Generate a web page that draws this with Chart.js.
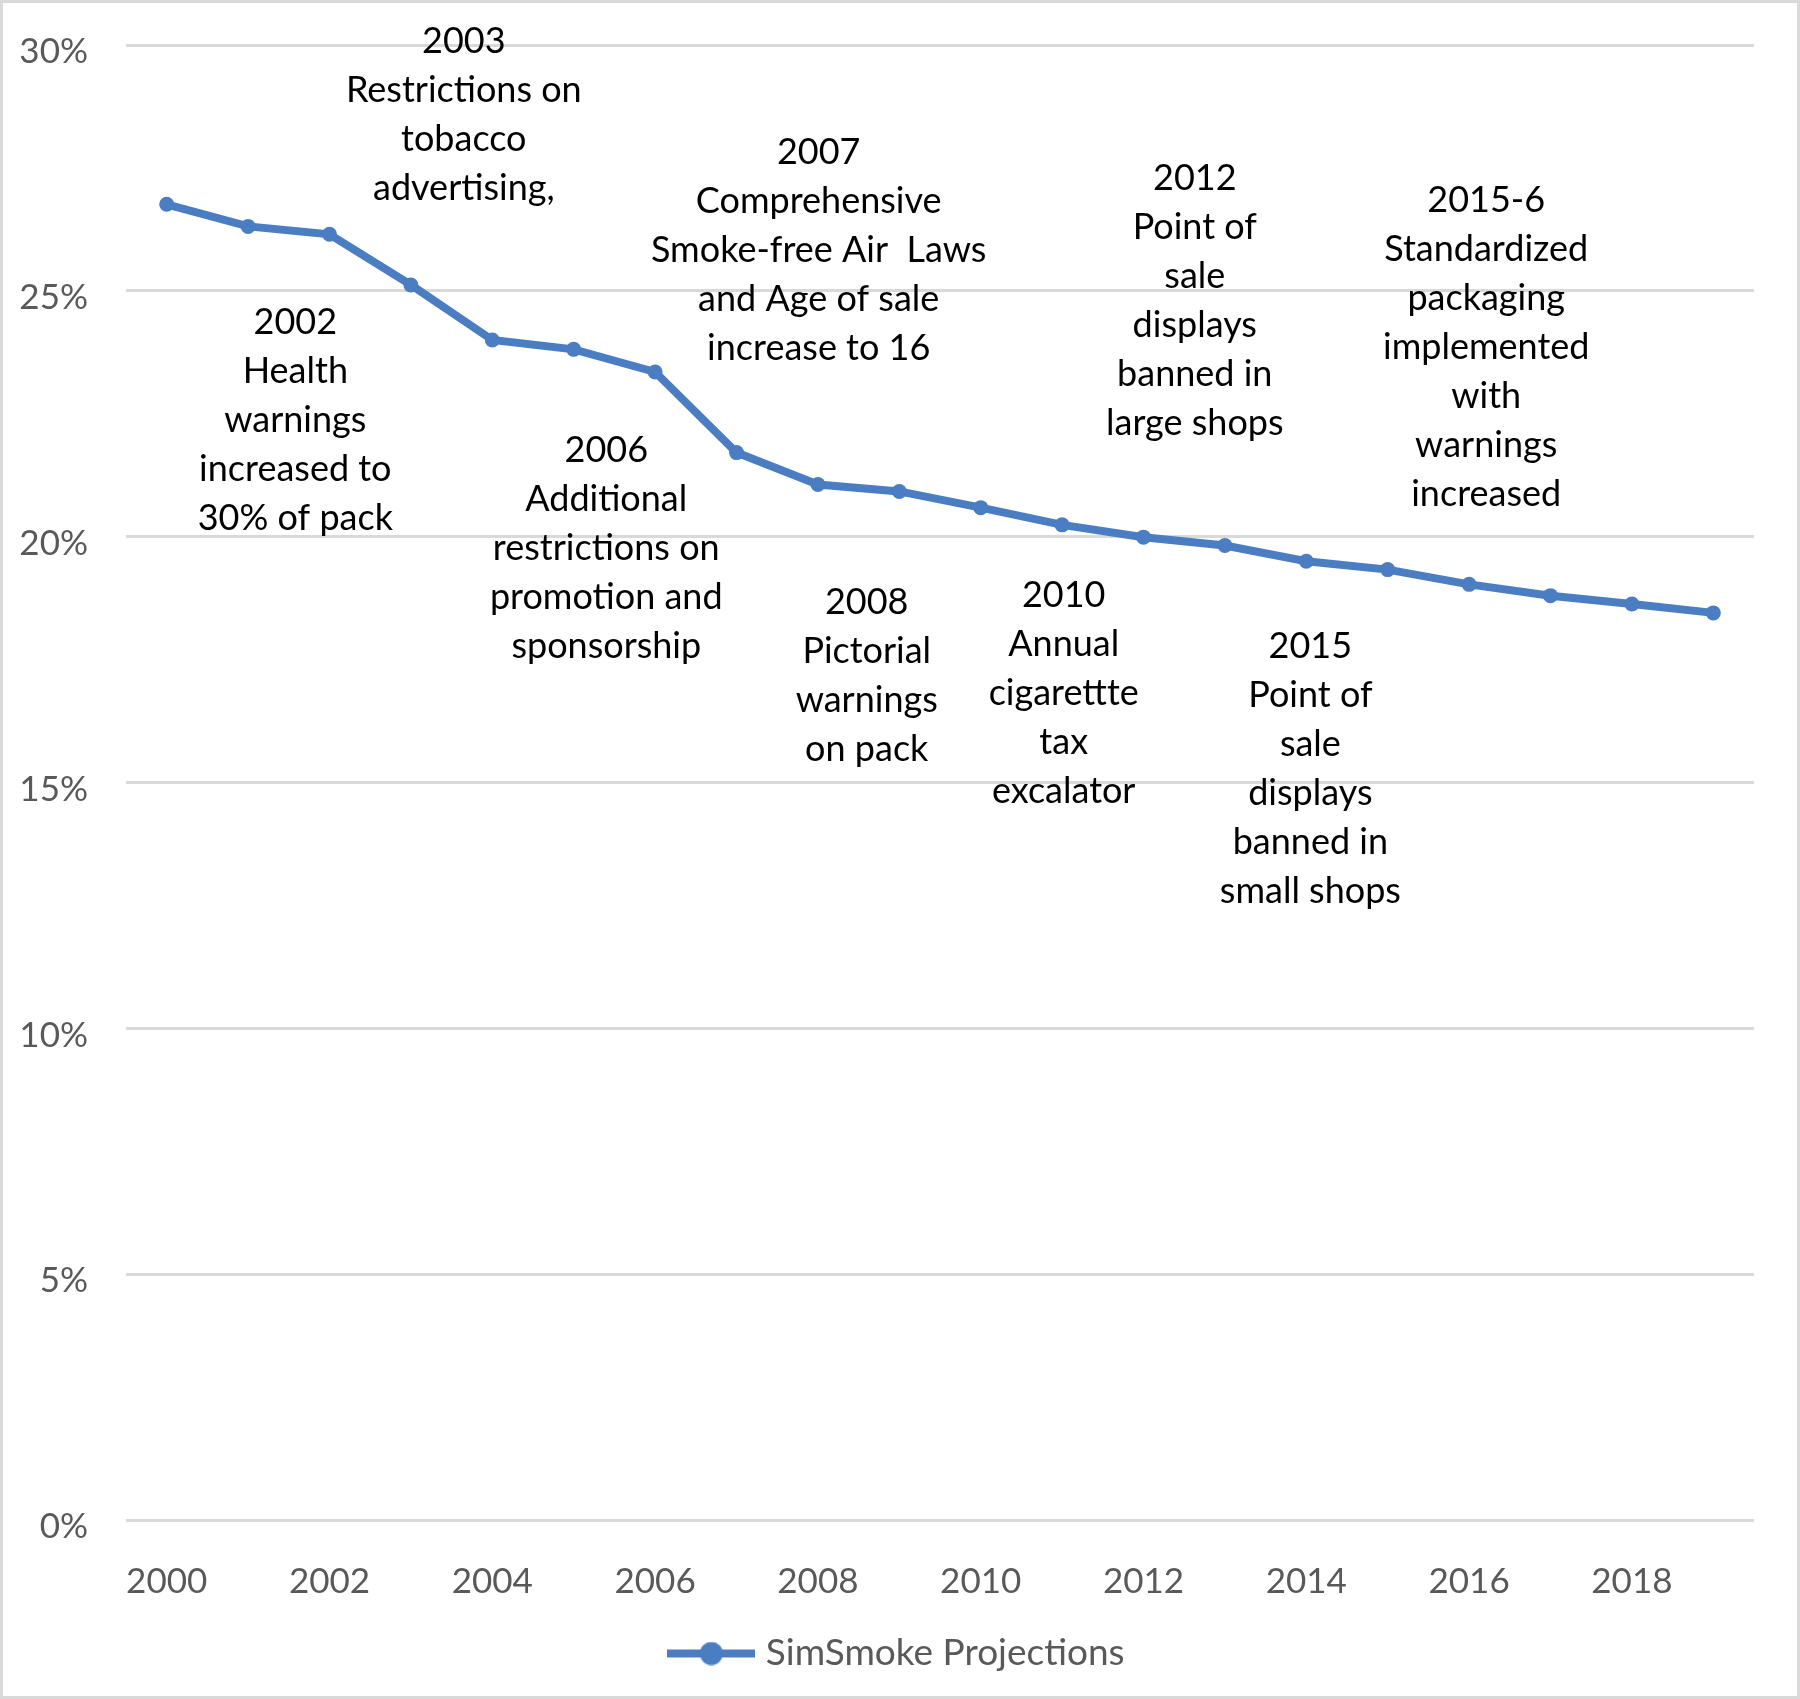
<!DOCTYPE html>
<html>
<head>
<meta charset="utf-8">
<script src="https://cdn.jsdelivr.net/npm/chart.js@4.4.0/dist/chart.umd.min.js"></script>
<style>
  html, body { margin: 0; padding: 0; background: #fff; }
</style>
</head>
<body>
<canvas id="chart" width="1800" height="1699"></canvas>
<script>
// ===== Data =====
const years = ['2000', '2001', '2002', '2003', '2004', '2005', '2006', '2007', '2008', '2009',
  '2010', '2011', '2012', '2013', '2014', '2015', '2016', '2017', '2018', '2019']
const prevalence = [26.76, 26.31, 26.15, 25.12, 24.0, 23.81, 23.35, 21.71, 21.06, 20.92,
  20.59, 20.24, 19.99, 19.82, 19.5, 19.33, 19.03, 18.8, 18.63, 18.45]
const seriesName = 'SimSmoke Projections'
const yTickValues = [0, 5, 10, 15, 20, 25, 30]

// policy notes: x = position in year-index units, y = value at first text line
const noteX = [1.58, 3.65, 5.40, 8.01, 8.60, 11.02, 12.63, 14.05, 16.21]
const noteY = [24.35, 30.07, 21.76, 27.81, 18.66, 18.80, 27.29, 17.77, 26.83]
const noteText = [
  ['2002', 'Health', 'warnings', 'increased to', '30% of pack'],
  ['2003', 'Restrictions on', 'tobacco', 'advertising,'],
  ['2006', 'Additional', 'restrictions on', 'promotion and', 'sponsorship'],
  ['2007', 'Comprehensive', 'Smoke-free Air  Laws', 'and Age of sale', 'increase to 16'],
  ['2008', 'Pictorial', 'warnings', 'on pack'],
  ['2010', 'Annual', 'cigarettte', 'tax', 'excalator'],
  ['2012', 'Point of', 'sale', 'displays', 'banned in', 'large shops'],
  ['2015', 'Point of', 'sale', 'displays', 'banned in', 'small shops'],
  ['2015-6', 'Standardized', 'packaging', 'implemented', 'with', 'warnings', 'increased']
]

const lineColor = '#4A7DC2'
const fontFamily = 'Lato, "Open Sans", sans-serif'

// legend marker: line with a dot in the middle
function makeLegendMarker() {
  const c = document.createElement('canvas')
  c.width = 88
  c.height = 24
  const g = c.getContext('2d')
  g.strokeStyle = lineColor
  g.lineWidth = 8
  g.beginPath()
  g.moveTo(0, 12)
  g.lineTo(88, 12)
  g.stroke()
  g.fillStyle = lineColor
  g.beginPath()
  g.arc(44, 12, 11.5, 0, Math.PI * 2)
  g.fill()
  return c
}

const notesPlugin = {
  id: 'notes',
  afterDraw(chart) {
    const { ctx, scales } = chart
    ctx.save()
    ctx.font = '36px ' + fontFamily
    ctx.fillStyle = '#000'
    ctx.textAlign = 'center'
    ctx.textBaseline = 'middle'
    noteText.forEach((lines, i) => {
      const x = scales.x.getPixelForValue(noteX[i])
      const y0 = scales.y.getPixelForValue(noteY[i])
      lines.forEach((t, j) => ctx.fillText(t, x, y0 + j * 49))
    })
    ctx.restore()
  }
}

const framePlugin = {
  id: 'frame',
  beforeDraw(chart) {
    const ctx = chart.ctx
    ctx.save()
    ctx.fillStyle = '#fff'
    ctx.fillRect(0, 0, chart.width, chart.height)
    ctx.strokeStyle = '#d9d9d9'
    ctx.lineWidth = 3
    ctx.strokeRect(1.5, 1.5, chart.width - 3, chart.height - 3)
    ctx.restore()
  }
}

new Chart(document.getElementById('chart'), {
  type: 'line',
  data: {
    labels: years,
    datasets: [{
      label: seriesName,
      data: prevalence,
      yAxisID: 'y',
      borderColor: lineColor,
      backgroundColor: lineColor,
      borderWidth: 8,
      pointRadius: 7.5,
      pointBorderWidth: 0,
      pointBackgroundColor: lineColor,
      tension: 0
    }]
  },
  options: {
    responsive: false,
    animation: false,
    devicePixelRatio: 1,
    layout: { padding: { top: 45, right: 0, left: 0, bottom: 17 } },
    plugins: {
      legend: {
        position: 'bottom',
        labels: {
          usePointStyle: true,
          pointStyle: makeLegendMarker(),
          pointStyleWidth: 72,
          color: '#595959',
          font: { family: fontFamily, size: 37 },
          padding: 10
        }
      },
      tooltip: { enabled: false }
    },
    scales: {
      x: {
        type: 'category',
        offset: true,
        grid: { display: false, drawTicks: false },
        border: { display: false },
        ticks: {
          autoSkip: false,
          maxRotation: 0,
          padding: 41,
          color: '#595959',
          font: { family: fontFamily, size: 35 },
          callback: (v, i) => (i % 2 === 0 ? years[i] : '')
        },
        afterFit: s => { s.height = 105 }
      },
      y: {
        min: 0,
        max: 30,
        grid: { color: '#d9d9d9', lineWidth: 3, drawTicks: false },
        border: { display: false },
        afterBuildTicks: s => { s.ticks = yTickValues.map(v => ({ value: v })) },
        ticks: {
          padding: 38,
          labelOffset: 7,
          color: '#595959',
          font: { family: fontFamily, size: 35 },
          callback: v => v + '%'
        },
        afterFit: s => { s.width = 126; s.paddingTop = 0; s.paddingBottom = 0 }
      },
      // empty margin on the right of the plot area
      yRight: {
        position: 'right',
        min: 0,
        max: 30,
        grid: { display: false, drawTicks: false },
        border: { display: false },
        ticks: { display: false },
        afterFit: s => { s.width = 46; s.paddingTop = 0; s.paddingBottom = 0 }
      }
    }
  },
  plugins: [framePlugin, notesPlugin]
})
</script>
</body>
</html>
